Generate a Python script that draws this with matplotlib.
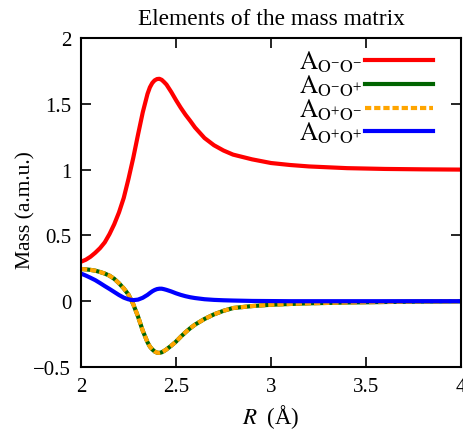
import numpy as np
import matplotlib
matplotlib.use("Agg")
import matplotlib.pyplot as plt

# Distance grid (Angstrom)
R = [2.0, 2.025, 2.05, 2.075, 2.1, 2.125, 2.15, 2.175, 2.2, 2.225, 2.25, 2.275,
     2.3, 2.325, 2.35, 2.3625, 2.375, 2.3875, 2.4, 2.4125, 2.425, 2.4375, 2.45,
     2.475, 2.5, 2.525, 2.55, 2.575, 2.6, 2.65, 2.7, 2.75, 2.8, 2.9, 3.0, 3.1,
     3.2, 3.4, 3.6, 3.8, 4.0]

# Mass matrix elements (a.m.u.)
A_mm = [0.30, 0.315, 0.338, 0.368, 0.403, 0.447, 0.51, 0.585, 0.675, 0.785, 0.93, 1.089,
        1.265, 1.435, 1.575, 1.625, 1.658, 1.678, 1.688, 1.69, 1.682, 1.665, 1.646,
        1.59, 1.528, 1.47, 1.417, 1.37, 1.32, 1.24, 1.185, 1.145, 1.114, 1.078, 1.05, 1.035,
        1.024, 1.011, 1.005, 1.002, 1.0]
A_mp = [0.245, 0.242, 0.238, 0.232, 0.222, 0.21, 0.194, 0.17, 0.136, 0.097, 0.05, -0.023,
        -0.116, -0.224, -0.312, -0.345, -0.366, -0.382, -0.391, -0.393, -0.388, -0.378, -0.366,
        -0.338, -0.307, -0.27, -0.236, -0.205, -0.178, -0.135, -0.1, -0.073, -0.052, -0.037, -0.027, -0.021,
        -0.016, -0.01, -0.006, -0.003, -0.001]
A_pm = A_mp
A_pp = [0.21, 0.195, 0.178, 0.16, 0.138, 0.115, 0.093, 0.07, 0.047, 0.027, 0.014, 0.008,
        0.012, 0.026, 0.048, 0.062, 0.075, 0.085, 0.092, 0.095, 0.095, 0.091, 0.086,
        0.074, 0.06, 0.048, 0.038, 0.03, 0.024, 0.015, 0.01, 0.007, 0.005, 0.002, 0.001, 0.0,
        0.0, 0.0, 0.0, 0.0, 0.0]

plt.rcParams['font.family'] = ['Liberation Serif', 'DejaVu Serif']
plt.rcParams['mathtext.fontset'] = 'stix'
plt.rcParams['font.size'] = 14

fig = plt.figure(figsize=(4.64, 4.31), dpi=100)
ax = fig.add_axes([81/464, 63/431, 380/464, 329/431])

lw = 3.0
ax.plot(R, A_mm, color='red', lw=lw, label=r'$\mathrm{A}_{\mathrm{O}^{-}\mathrm{O}^{-}}$')
ax.plot(R, A_mp, color='#006400', lw=lw, label=r'$\mathrm{A}_{\mathrm{O}^{-}\mathrm{O}^{+}}$')
ax.plot(R, A_pm, color='orange', lw=lw, dashes=(1.5, 0.7), label=r'$\mathrm{A}_{\mathrm{O}^{+}\mathrm{O}^{-}}$')
ax.plot(R, A_pp, color='blue', lw=lw, label=r'$\mathrm{A}_{\mathrm{O}^{+}\mathrm{O}^{+}}$')

ax.set_xlim(2, 4)
ax.set_ylim(-0.5, 2)
ax.set_xticks([2, 2.5, 3, 3.5, 4])
ax.set_xticklabels(['2', '2.5', '3', '3.5', '4'])
ax.set_yticks([-0.5, 0, 0.5, 1, 1.5, 2])
ax.set_yticklabels(['\u22120.5', '0', '0.5', '1', '1.5', '2'])
ax.tick_params(direction='in', top=True, right=True, length=7, width=1.2, pad=7,
               labelsize=15)
for s in ax.spines.values():
    s.set_linewidth(1.5)

ax.set_title('Elements of the mass matrix', pad=10)
ax.set_xlabel(r'$R\;$ (Å)', fontsize=16.5, va='baseline')
ax.xaxis.set_label_coords(0.5, -0.17)
ax.set_ylabel('Mass (a.m.u.)', fontsize=15.5)
ax.yaxis.set_label_coords(-0.12, 0.48)

ax.legend(loc='upper right', bbox_to_anchor=(0.926, 0.966), frameon=False,
          markerfirst=False, handlelength=2.7, handletextpad=0.15,
          labelspacing=-0.07, borderpad=0, borderaxespad=0, fontsize=18)

fig.savefig('out.png', dpi=100)
